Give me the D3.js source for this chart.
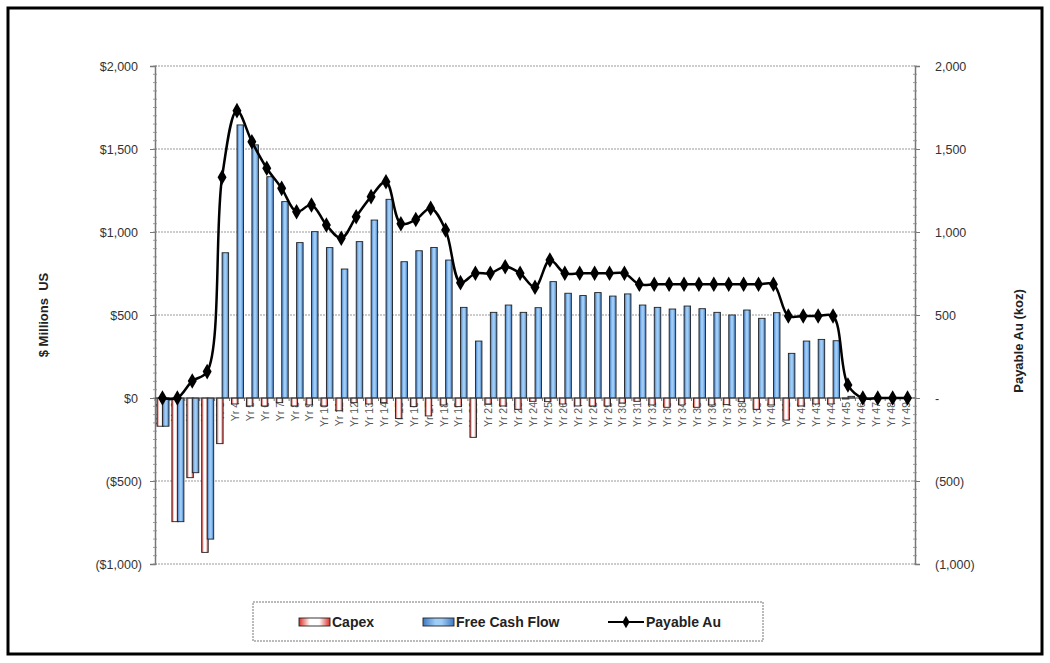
<!DOCTYPE html>
<html>
<head>
<meta charset="utf-8">
<script src="https://cdn.jsdelivr.net/npm/d3@7"></script>
<style>
  body { margin: 0; background: #fff; }
  svg { display: block; font-family: "Liberation Sans", Arial, sans-serif; }
</style>
</head>
<body>
<div id="chart"></div>
<script>
// Capex / Free Cash Flow bars ($M) with Payable Au line (koz) on a second axis

// Data
var years = d3.range(-1, 50).map(function(n) { return "Yr " + n; });

var capex = [-170, -745, -480, -930, -275, -36, -48, -48, -28, -48,
  -42, -48, -77, -28, -36, -28, -123, -52, -108, -42,
  -52, -237, -36, -48, -68, -20, -22, -36, -48, -48,
  -48, -30, -20, -42, -56, -42, -56, -42, -40, -22,
  -68, -42, -133, -48, -36, -36, -6, 0, 0, 0, 0];

var freeCashFlow = [-170, -745, -450, -850, 875, 1645, 1525, 1333, 1183, 936,
  1002, 906, 777, 942, 1072, 1197, 821, 887, 907, 831,
  546, 343, 516, 560, 516, 544, 701, 631, 617, 635,
  614, 627, 560, 546, 536, 554, 538, 516, 500, 530,
  480, 514, 269, 343, 353, 345, 10, 0, 0, 0, 0];

var payableAu = [0, 0, 102, 159, 1330, 1731, 1544, 1384, 1263, 1122,
  1163, 1042, 962, 1092, 1213, 1303, 1050, 1075, 1143, 1012,
  695, 751, 751, 791, 751, 667, 831, 751, 751, 751,
  751, 751, 685, 685, 685, 685, 685, 685, 685, 685,
  685, 685, 494, 494, 494, 494, 78, 0, 0, 0, 0];

var leftTicks = [-1000, -500, 0, 500, 1000, 1500, 2000];
var seriesNames = ["Capex", "Free Cash Flow", "Payable Au"];

// Layout
var width = 1050, height = 663,
  plotLeft = 155, plotRight = 915,
  plotTop = 66, plotBottom = 564;

var svg = d3.select("#chart").append("svg")
  .attr("width", width)
  .attr("height", height);

var defs = svg.append("defs");

function hGradient(id, stops) {
  var g = defs.append("linearGradient").attr("id", id)
    .attr("x1", "0%").attr("x2", "100%").attr("y1", "0%").attr("y2", "0%");
  stops.forEach(function(s) {
    g.append("stop").attr("offset", s[0]).attr("stop-color", s[1]);
  });
}
hGradient("gradCapex", [["0%", "#d9302a"], ["35%", "#ffffff"], ["65%", "#ffffff"], ["100%", "#d9302a"]]);
hGradient("gradFcf", [["0%", "#3f78c0"], ["40%", "#9fcdf6"], ["60%", "#9fcdf6"], ["100%", "#3f78c0"]]);

// outer frame
svg.append("rect")
  .attr("x", 8).attr("y", 8)
  .attr("width", 1034).attr("height", 646)
  .attr("fill", "none")
  .attr("stroke", "#000")
  .attr("stroke-width", 3);

// Scales
var x = d3.scaleBand()
  .domain(years)
  .range([plotLeft, plotRight])
  .padding(0);

var y = d3.scaleLinear()
  .domain([-1000, 2000])
  .range([plotBottom, plotTop]);

var y2 = d3.scaleLinear()
  .domain([-1000, 2000])
  .range([plotBottom, plotTop]);

// gridlines
svg.append("g").selectAll("line")
  .data(leftTicks.filter(function(d) { return d !== 0; }))
  .enter().append("line")
  .attr("x1", plotLeft).attr("x2", plotRight)
  .attr("y1", function(d) { return y(d); })
  .attr("y2", function(d) { return y(d); })
  .attr("stroke", "#999")
  .attr("stroke-width", 1)
  .attr("stroke-dasharray", "2,1");

// left axis
var fmtLeft = function(d) {
  var s = "$" + d3.format(",")(Math.abs(d));
  return d < 0 ? "(" + s + ")" : s;
};
var leftAxis = svg.append("g")
  .attr("transform", "translate(" + plotLeft + ",0)")
  .call(d3.axisLeft(y).tickValues(leftTicks).tickFormat(fmtLeft).tickSize(5).tickPadding(12));
leftAxis.select(".domain").attr("stroke", "#777").attr("stroke-width", 1.5);
leftAxis.selectAll(".tick line").attr("stroke", "#777");
leftAxis.selectAll("text")
  .attr("font-size", 12.5)
  .attr("fill", "#333")
  .attr("dx", function(d) { return d < 0 ? 4 : 0; });

// right axis
var fmtRight = function(d) {
  if (d === 0) return "-";
  var s = d3.format(",")(Math.abs(d));
  return d < 0 ? "(" + s + ")" : s;
};
var rightAxis = svg.append("g")
  .attr("transform", "translate(" + plotRight + ",0)")
  .call(d3.axisRight(y2).tickValues(leftTicks).tickFormat(fmtRight).tickSize(5).tickPadding(15));
rightAxis.select(".domain").attr("stroke", "#777").attr("stroke-width", 1.5);
rightAxis.selectAll(".tick line").attr("stroke", "#777");
rightAxis.selectAll("text").attr("font-size", 12.5).attr("fill", "#333");

// minor ticks
var minor = d3.range(-1000, 2001, 50);
[plotLeft, plotRight].forEach(function(px) {
  svg.append("g").selectAll("line")
    .data(minor)
    .enter().append("line")
    .attr("x1", px - 2).attr("x2", px + 2)
    .attr("y1", function(d) { return y(d); })
    .attr("y2", function(d) { return y(d); })
    .attr("stroke", "#888")
    .attr("stroke-width", 0.8);
});

// axis titles
svg.append("text")
  .attr("transform", "translate(48," + ((plotTop + plotBottom) / 2) + ")rotate(-90)")
  .attr("text-anchor", "middle")
  .attr("font-size", 13)
  .attr("font-weight", "bold")
  .attr("fill", "#222")
  .attr("xml:space", "preserve")
  .text("$ Millions  US");

svg.append("text")
  .attr("transform", "translate(1023," + 341 + ")rotate(-90)")
  .attr("text-anchor", "middle")
  .attr("font-size", 13)
  .attr("font-weight", "bold")
  .attr("fill", "#222")
  .text("Payable Au (koz)");

// category labels (drawn under the bars, like the original)
svg.append("g").selectAll("text")
  .data(years)
  .enter().append("text")
  .attr("transform", function(d) {
    return "translate(" + (x(d) + x.bandwidth() / 2 + 2) + "," + (y(0) + 4) + ")rotate(-90)";
  })
  .attr("text-anchor", "end")
  .attr("font-size", 10.5)
  .attr("fill", "#555")
  .text(function(d) { return d; });

// category tick marks
svg.append("g").selectAll("line")
  .data(years)
  .enter().append("line")
  .attr("x1", function(d) { return x(d); })
  .attr("x2", function(d) { return x(d); })
  .attr("y1", y(0)).attr("y2", y(0) + 3)
  .attr("stroke", "#777");

// bars
var capexBars = svg.append("g").selectAll("rect")
  .data(capex)
  .enter().append("rect")
  .attr("x", function(d, i) { return x(years[i]) + 2; })
  .attr("width", 6.5)
  .attr("y", function(d) { return Math.min(y(d), y(0)); })
  .attr("height", function(d) { return Math.abs(y(d) - y(0)); })
  .attr("fill", "url(#gradCapex)")
  .attr("stroke", "#222")
  .attr("stroke-width", 0.9);

var fcfBars = svg.append("g").selectAll("rect")
  .data(freeCashFlow)
  .enter().append("rect")
  .attr("x", function(d, i) { return x(years[i]) + 7.5; })
  .attr("width", 6.5)
  .attr("y", function(d) { return Math.min(y(d), y(0)); })
  .attr("height", function(d) { return Math.abs(y(d) - y(0)); })
  .attr("fill", "url(#gradFcf)")
  .attr("stroke", "#222")
  .attr("stroke-width", 0.9);

// zero line
svg.append("line")
  .attr("x1", plotLeft).attr("x2", plotRight)
  .attr("y1", y(0)).attr("y2", y(0))
  .attr("stroke", "#444")
  .attr("stroke-width", 1.2);

// payable Au line
var line = d3.line()
  .x(function(d, i) { return x(years[i]) + x.bandwidth() / 2; })
  .y(function(d) { return y2(d); })
  .curve(d3.curveCatmullRom.alpha(0.5));

svg.append("path")
  .datum(payableAu)
  .attr("d", line)
  .attr("fill", "none")
  .attr("stroke", "#000")
  .attr("stroke-width", 2.5);

var diamond = d3.symbol().type(d3.symbolDiamond).size(70);
svg.append("g").selectAll("path")
  .data(payableAu)
  .enter().append("path")
  .attr("d", diamond)
  .attr("transform", function(d, i) {
    return "translate(" + (x(years[i]) + x.bandwidth() / 2) + "," + y2(d) + ")";
  })
  .attr("fill", "#000");

// legend
var legend = svg.append("g");
legend.append("rect")
  .attr("x", 253).attr("y", 602)
  .attr("width", 510).attr("height", 39)
  .attr("fill", "#fff")
  .attr("stroke", "#777")
  .attr("stroke-dasharray", "2,1");

legend.append("rect")
  .attr("x", 299).attr("y", 618).attr("width", 31).attr("height", 8)
  .attr("fill", "url(#gradCapex)").attr("stroke", "#222").attr("stroke-width", 0.9);
legend.append("rect")
  .attr("x", 423).attr("y", 618).attr("width", 31).attr("height", 8)
  .attr("fill", "url(#gradFcf)").attr("stroke", "#222").attr("stroke-width", 0.9);
legend.append("line")
  .attr("x1", 608).attr("x2", 644).attr("y1", 622).attr("y2", 622)
  .attr("stroke", "#000").attr("stroke-width", 2);
legend.append("path")
  .attr("d", d3.symbol().type(d3.symbolDiamond).size(45))
  .attr("transform", "translate(626,622)")
  .attr("fill", "#000");

var legendX = [332, 456, 646];
legend.selectAll("text.lab")
  .data(seriesNames)
  .enter().append("text")
  .attr("class", "lab")
  .attr("x", function(d, i) { return legendX[i]; })
  .attr("y", 627)
  .attr("font-size", 14)
  .attr("font-weight", "bold")
  .attr("fill", "#222")
  .text(function(d) { return d; });
</script>
</body>
</html>
